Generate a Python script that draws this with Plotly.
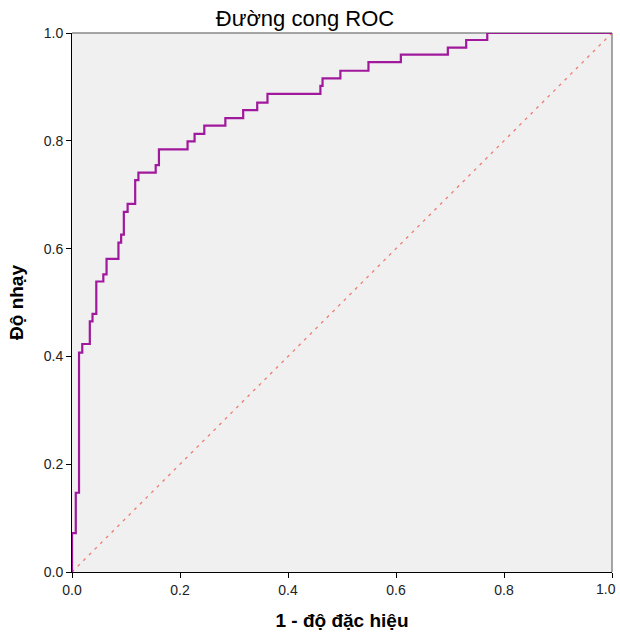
import plotly.graph_objects as go

# ROC step vertices (1 - specificity, sensitivity)
fpr = [0.0, 0.007, 0.013, 0.019, 0.033, 0.038, 0.045, 0.058, 0.064, 0.086, 0.091,
       0.096, 0.103, 0.117, 0.123, 0.155, 0.161, 0.214, 0.227, 0.245, 0.284,
       0.317, 0.343, 0.362, 0.460, 0.464, 0.497, 0.549, 0.609, 0.696, 0.730,
       0.769, 1.0]
tpr = [0.0, 0.072, 0.147, 0.407, 0.423, 0.465, 0.479, 0.539, 0.552, 0.581, 0.611,
       0.626, 0.668, 0.683, 0.727, 0.741, 0.755, 0.784, 0.799, 0.813, 0.828,
       0.842, 0.857, 0.871, 0.887, 0.902, 0.916, 0.930, 0.946, 0.960, 0.973,
       0.987, 1.0]
ref_x = [0.0, 1.0]
ref_y = [0.0, 1.0]
tick_vals = [0.0, 0.2, 0.4, 0.6, 0.8, 1.0]
tick_text = ["0.0", "0.2", "0.4", "0.6", "0.8", "1.0"]

# the last x label is drawn right-aligned (below) so it stays inside the page
x_tick_text = tick_text[:-1] + [""]

fig = go.Figure()
fig.add_trace(go.Scatter(x=ref_x, y=ref_y, mode="lines",
                         line=dict(color="#F07A70", width=1.3, dash="3px,5px"),
                         hoverinfo="skip", showlegend=False))
fig.add_trace(go.Scatter(x=fpr, y=tpr, mode="lines", line_shape="vh",
                         line=dict(color="#A0189C", width=2.2),
                         showlegend=False))

font_family = "Liberation Sans, Arial, sans-serif"
W, H = 620, 632
fig.update_layout(
    width=W, height=H,
    margin=dict(l=72, r=8, t=33, b=60, autoexpand=False),
    paper_bgcolor="white", plot_bgcolor="#F0F0F0",
    font=dict(family=font_family, color="#111111", size=14),
    title=dict(text="Đường cong ROC", x=305 / W, xanchor="center",
               y=1 - 18 / H, yanchor="middle",
               font=dict(size=22, color="black")),
    xaxis=dict(range=[0, 1], tickvals=tick_vals, ticktext=x_tick_text,
               ticks="outside", ticklen=5, tickcolor="black",
               showline=True, linecolor="black", linewidth=1,
               showgrid=False, zeroline=False, automargin=False,
               ticklabeloverflow="allow",
               tickfont=dict(size=14, color="#222222"),
               title=dict(text="<b>1 - độ đặc hiệu</b>", standoff=16,
                          font=dict(size=19, color="black"))),
    yaxis=dict(range=[0, 1], tickvals=tick_vals, ticktext=tick_text,
               ticks="outside", ticklen=5, tickcolor="black",
               showline=True, linecolor="black", linewidth=1,
               showgrid=False, zeroline=False, automargin=False,
               ticklabeloverflow="allow",
               tickfont=dict(size=14, color="#222222"),
               title=dict(text="<b>Độ nhạy</b>", standoff=15,
                          font=dict(size=19, color="black"))),
    annotations=[
        dict(text=tick_text[-1], x=tick_vals[-1], xref="x", y=0, yref="paper",
             xanchor="right", yanchor="top", xshift=6, yshift=-7,
             showarrow=False, font=dict(size=14, color="#222222")),
    ],
    shapes=[
        dict(type="line", xref="paper", yref="paper", x0=0, x1=1, y0=1, y1=1,
             line=dict(color="#888888", width=1.5), layer="below"),
        dict(type="line", xref="paper", yref="paper", x0=1, x1=1, y0=0, y1=1,
             line=dict(color="#888888", width=1.5), layer="below"),
    ],
)

fig.write_html("out.html", config={"displayModeBar": False},
               post_script="document.body.style.margin='0';document.body.style.overflow='hidden';")
